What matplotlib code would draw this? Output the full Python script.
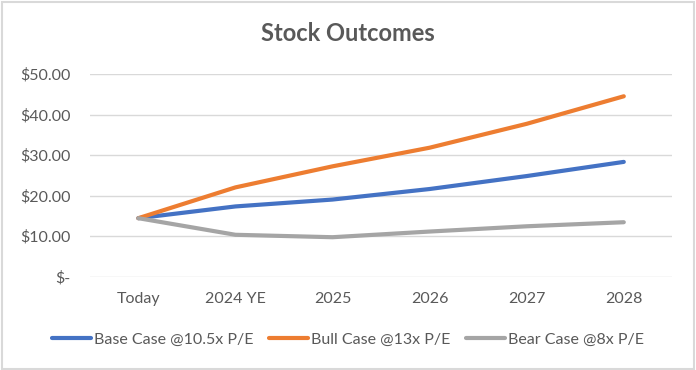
import matplotlib
matplotlib.use("Agg")
import matplotlib.pyplot as plt
from matplotlib.patches import Rectangle

categories = ["Today", "2024 YE", "2025", "2026", "2027", "2028"]
base = [14.4, 17.3, 19.0, 21.6, 24.8, 28.3]
bull = [14.4, 22.0, 27.2, 31.8, 37.7, 44.5]
bear = [14.4, 10.3, 9.7, 11.1, 12.4, 13.4]
series_names = ["Base Case @10.5x P/E", "Bull Case @13x P/E", "Bear Case @8x P/E"]
yticks = [0, 10, 20, 30, 40, 50]
ytick_labels = ["$-", "$10.00", "$20.00", "$30.00", "$40.00", "$50.00"]

plt.rcParams['font.family'] = ['Lato', 'DejaVu Sans']
txt = "#595959"

fig = plt.figure(figsize=(6.96, 3.70), dpi=100)
fig.patches.append(Rectangle((0.003, 0.004), 0.994, 0.99, transform=fig.transFigure,
                             fill=False, edgecolor="#D9D9D9", linewidth=1.5))
ax = fig.add_axes([0.129, 0.2527, 0.837, 0.5473])

x = list(range(len(categories)))
ax.plot(x, base, color="#4472C4", lw=3, label=series_names[0], solid_capstyle="round")
ax.plot(x, bull, color="#ED7D31", lw=3, label=series_names[1], solid_capstyle="round")
ax.plot(x, bear, color="#A5A5A5", lw=3, label=series_names[2], solid_capstyle="round")

ax.set_xlim(-0.5, len(categories) - 0.5)
ax.set_ylim(0, 50)
ax.set_yticks(yticks)
ax.set_yticklabels(ytick_labels, color=txt, fontsize=11.5)
ax.set_xticks(x)
ax.set_xticklabels(categories, color=txt, fontsize=11.5)
ax.tick_params(axis="y", length=0, pad=14)
ax.tick_params(axis="x", length=0, pad=11)
ax.grid(axis="y", color="#D9D9D9", lw=1)
ax.set_axisbelow(True)
for s in ax.spines.values():
    s.set_visible(False)

fig.text(0.5, 0.91, "Stock Outcomes", ha="center", va="center", fontsize=17,
         fontweight="bold", color=txt)

fig.legend(loc="center", bbox_to_anchor=(0.5, 0.083), ncol=3, frameon=False,
           fontsize=11.5, labelcolor=txt, handlelength=2.45, handletextpad=0.2,
           columnspacing=0.95)

fig.savefig("out.png", dpi=100)
